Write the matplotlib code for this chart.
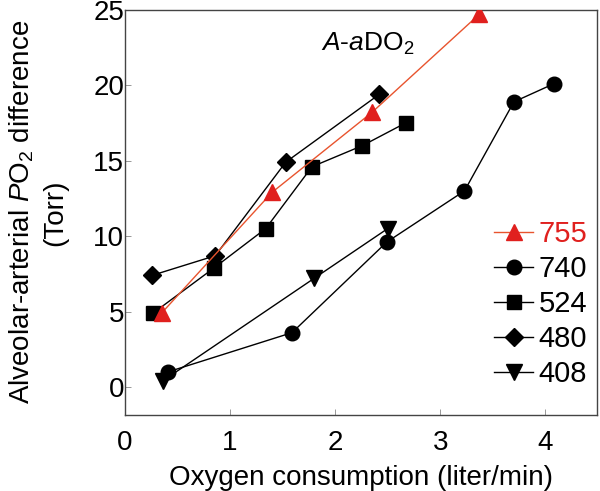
import matplotlib
matplotlib.use("Agg")
import matplotlib.pyplot as plt

plt.rcParams['font.family'] = ['Liberation Sans', 'DejaVu Sans']
plt.rcParams['mathtext.fontset'] = 'custom'
plt.rcParams['mathtext.rm'] = 'Liberation Sans'
plt.rcParams['mathtext.it'] = 'Liberation Sans:italic'

# data (x: liter/min, y: Torr)
x_755 = [0.35, 1.40, 2.35, 3.37]
y_755 = [4.9, 12.9, 18.2, 24.7]

x_740 = [0.41, 1.59, 2.49, 3.23, 3.70, 4.08]
y_740 = [1.0, 3.6, 9.6, 13.0, 18.9, 20.1]

x_524 = [0.27, 0.85, 1.34, 1.78, 2.26, 2.67]
y_524 = [4.9, 7.9, 10.5, 14.6, 16.0, 17.5]

x_480 = [0.26, 0.86, 1.53, 2.42]
y_480 = [7.4, 8.7, 14.9, 19.4]

x_408 = [0.36, 1.80, 2.50]
y_408 = [0.4, 7.2, 10.5]

fig = plt.figure(figsize=(6, 4.91), dpi=100)
ax = fig.add_axes([0.208, 0.155, 0.787, 0.825])

red_line = '#e8542e'
red_mark = '#e0201e'

ax.plot(x_755, y_755, color=red_line, lw=1.0, marker='^', ms=11,
        mfc=red_mark, mec=red_mark, label='755', zorder=3)
ax.plot(x_740, y_740, color='black', lw=1.0, marker='o', ms=10.5, label='740')
ax.plot(x_524, y_524, color='black', lw=1.0, marker='s', ms=9.5, label='524')
ax.plot(x_480, y_480, color='black', lw=1.0, marker='D', ms=9, label='480')
ax.plot(x_408, y_408, color='black', lw=1.0, marker='v', ms=11, label='408')

ax.set_xlim(0, 4.49)
ax.set_ylim(-1.85, 25)
ax.set_xticks([0, 1, 2, 3, 4])
ax.set_yticks([0, 5, 10, 15, 20, 25])
ax.tick_params(direction='in', length=4, width=0.6, color='#888888',
               labelsize=20)
ax.tick_params(axis='x', pad=11)
ax.tick_params(axis='y', pad=0.5)
for s in ax.spines.values():
    s.set_color('#444444')
    s.set_linewidth(1.0)

ax.set_xlabel('Oxygen consumption (liter/min)', fontsize=20, labelpad=6)
ax.set_ylabel('Alveolar-arterial $\\it{P}$O$_2$ difference\n(Torr)',
              fontsize=20, labelpad=18, linespacing=1.3)

ax.text(0.515, 0.915, '$\\it{A}$-$\\it{a}$DO$_2$', transform=ax.transAxes,
        fontsize=19, ha='center', va='center')

leg = ax.legend(loc='upper left', bbox_to_anchor=(0.782, 0.48), frameon=False,
                fontsize=21, handlelength=1.35, handletextpad=0.17,
                labelspacing=0.24, borderaxespad=0, borderpad=0)
for t in leg.get_texts():
    t.set_color(red_mark if t.get_text() == '755' else 'black')

fig.savefig('out.png', dpi=100)
